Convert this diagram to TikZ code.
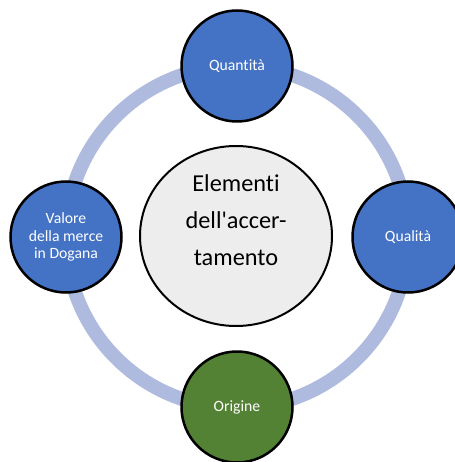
\documentclass[tikz,border=0pt]{standalone}
\usepackage{fontspec}
\newfontfamily\calfont{Carlito}[RawFeature={-liga}]
\usetikzlibrary{shapes.geometric}
\definecolor{accblue}{RGB}{68,114,196}
\definecolor{accgreen}{RGB}{84,130,53}
\definecolor{ringblue}{RGB}{174,187,222}
\definecolor{centrefill}{RGB}{237,237,237}
\tikzset{
    satellite/.style={circle, draw=black, line width=2.5pt, minimum size=111pt, inner sep=0pt,
        text=white, align=center, font=\calfont\fontsize{15.7}{17.5}\selectfont},
    hub/.style={ellipse, draw=black, line width=2pt, fill=centrefill,
        minimum width=192pt, minimum height=180pt, inner sep=0pt}
}
\begin{document}
\begin{tikzpicture}[x=1pt, y=-1pt]
    \useasboundingbox (0,0) rectangle (454,462);
    \coordinate (mid) at (237,237);
    % ring behind everything
    \draw[ringblue, line width=14pt] (mid) circle (171pt);
    \node[hub] (centro) at (236,236) {};
    \node[align=center, font=\calfont\fontsize{24.3}{36.7}\selectfont] (centrotxt) at (236,220)
        {Elementi\\dell'accer-\\tamento};
    \foreach \name/\x/\y/\col/\txt in {quant/237/66/accblue/Quantità, qual/408/237/accblue/Qualità,
        orig/237/407/accgreen/Origine, val/66/237/accblue/Valore\\della merce\\in Dogana} {
        \node[satellite, fill=\col] (\name) at (\x,\y) {\txt};
    }
\end{tikzpicture}
\end{document}
